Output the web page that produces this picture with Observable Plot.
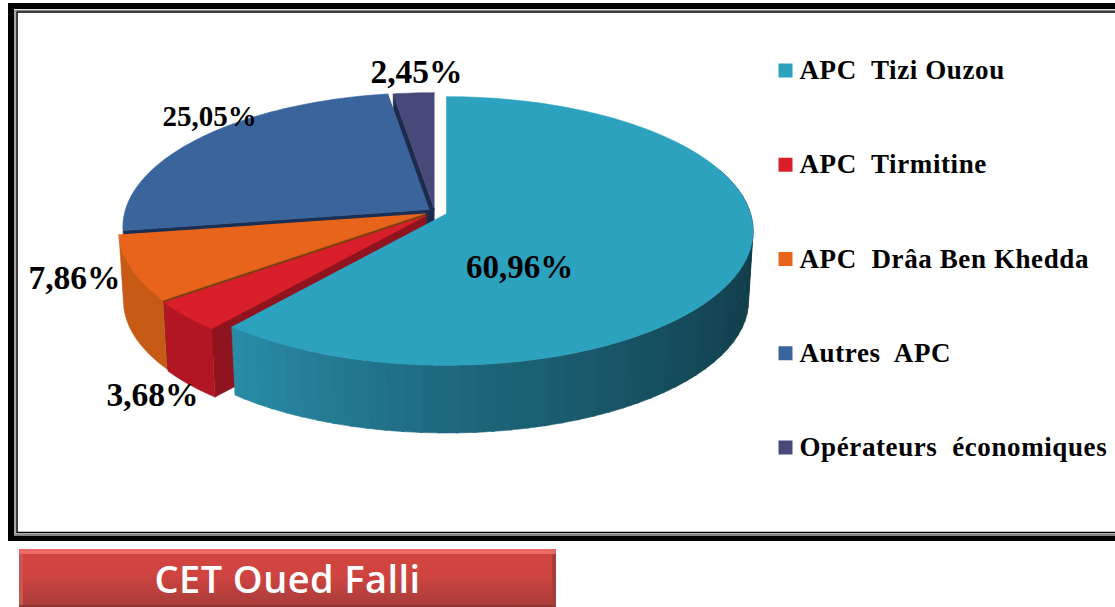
<!DOCTYPE html>
<html><head><meta charset="utf-8">
<script src="https://cdn.jsdelivr.net/npm/d3@7"></script>
<script src="https://cdn.jsdelivr.net/npm/@observablehq/plot@0.6"></script>
<style>
html,body{margin:0;padding:0;background:#fff;overflow:hidden}
svg{display:block}
text{white-space:pre}
#banner{position:relative;box-sizing:border-box;margin-left:19px;margin-top:8px;width:537px;height:58px;
 background:linear-gradient(#d24641,#cf4440 45%,#a63c3a);
 box-shadow:inset 0 5px 0 #ec6a66,inset 0 -2px 0 #8e3433,inset 4px 0 0 #c85753,inset -4px 0 0 #a33f3d;
 color:#fff;font:600 38px "Open Sans",sans-serif;letter-spacing:.4px;text-align:center;line-height:58px}
</style></head><body>
<div id="chart"></div>
<div id="banner">CET Oued Falli</div>
<script>
// ---- data ----
const categories = ["APC  Tizi Ouzou","APC  Tirmitine","APC  Drâa Ben Khedda","Autres  APC","Opérateurs  économiques"];
const percents = [60.96,3.68,7.86,25.05,2.45];
const percentLabels = ["60,96%","3,68%","7,86%","25,05%","2,45%"];
// ---- styling ----
const topColors = ["#2ca2bf","#d81f2a","#e8641a","#3a649c","#474a78"];
const cutColors = ["#1a5f70","#8f1420","#7a4010","#1b2f52","#1e2a4c"];
const rimColors = [null,"#b21623","#c75a15",null,null];
const labelSizes = [33,33.5,33.5,29,33.5];
// ---- layout of the exploded perspective pie ----
const W=1115,H=541,R=304,RB=.985,SY=132,K=.13,DEPTH=70;
const apexX=[446,426,425,429,434], apexY=[213,215,213,209,209];
const labelDX=[73,-274,-351,-220,-18], labelDY=[54,180,65,-93,-137];
const total=d3.sum(percents);
const tiziShade=d3.scaleLinear().domain([70,100,135,180,220]).range(["#113843","#123c48","#154c5b","#1e6a80","#2a8fa9"]);

let acc=0;
const slices=percents.map((p,i)=>{const a0=acc/total*2*Math.PI;acc+=p;const a1=acc/total*2*Math.PI;return {i,a0,a1};});
function proj(i,a,r,bottom){
  const u=r*Math.sin(a),v=-r*Math.cos(a),w=1/(1-K*v),k=bottom?RB:1;
  return {x:apexX[i]+R*k*u*w,y:apexY[i]+(bottom?DEPTH:0)+SY*k*v*w};
}
const polys=[];let pid=0;
const push=(pts,color)=>{const id=pid++;pts.forEach((p,o)=>polys.push({id,o,x:p.x,y:p.y,color}));};
const arcPts=(i,a,b,bottom)=>{const n=Math.max(2,Math.ceil(Math.abs(b-a)/0.02));return d3.range(n+1).map(j=>proj(i,a+(b-a)*j/n,1,bottom));};
// draw from the back to the front
[4,3,2,1,0].forEach(i=>{
  const s=slices[i];
  if(i!==0){ // cut face on the clockwise-start edge, seen from the front
    push([proj(i,s.a0,0,false),proj(i,s.a0,1,false),proj(i,s.a0,1,true),proj(i,s.a0,0,true)],cutColors[i]);
  }
  if(i===1||i===2){
    push(arcPts(i,s.a0,s.a1,false).concat(arcPts(i,s.a0,s.a1,true).reverse()),rimColors[i]);
  }
  if(i===0){
    const start=70*Math.PI/180, step=3*Math.PI/180;
    for(let a=start;a<s.a1;a+=step){
      const b=Math.min(a+step*1.15,s.a1);
      push(arcPts(i,a,b,false).concat(arcPts(i,a,b,true).reverse()),tiziShade(a*180/Math.PI));
    }
  }
  push([proj(i,0,0,false)].concat(arcPts(i,s.a0,s.a1,false)),topColors[i]);
});

const labels=percentLabels.map((t,i)=>({t,size:labelSizes[i],x:apexX[i]+labelDX[i],y:apexY[i]+labelDY[i]}));
const LEGX=785,LEGY0=70,LEGSTEP=94.25;
const legend=categories.map((c,i)=>({c,color:topColors[i],y:LEGY0+i*LEGSTEP}));
const serif='"Liberation Serif",serif';
const frame=(x1,y1,x2,y2,stroke,strokeWidth)=>Plot.rect([{x1,y1,x2,y2}],{x1:"x1",y1:"y1",x2:"x2",y2:"y2",fill:"none",stroke:()=>stroke,strokeWidth});

const plot=Plot.plot({
  width:W,height:H,margin:0,
  x:{domain:[0,W],range:[0,W],axis:null},
  y:{domain:[0,H],range:[0,H],axis:null},
  marks:[
    frame(11,6,1140,538.5,"#000",6),
    frame(15,10.5,1140,534.5,"#8a8a8a",1.5),
    frame(17,12,1140,532.5,"#000",1.5),
    Plot.line(polys,{x:"x",y:"y",z:"id",fill:"color",stroke:"color",strokeWidth:.6,curve:"linear"}),
    Plot.text(labels,{x:"x",y:"y",text:"t",fontFamily:serif,fontWeight:"bold",fontSize:"size",fill:"#000",textAnchor:"middle"}),
    Plot.dot(legend,{x:()=>LEGX,y:"y",symbol:"square",r:7.9,fill:"color",stroke:"none"}),
    Plot.text(legend,{x:()=>799,y:"y",text:"c",fontFamily:serif,fontWeight:"bold",fontSize:27,fill:"#000",textAnchor:"start"})
  ]
});
plot.querySelectorAll("g[font-size='27']").forEach(g=>g.style.letterSpacing="0.6px");
document.getElementById("chart").appendChild(plot);
</script>
</body></html>
